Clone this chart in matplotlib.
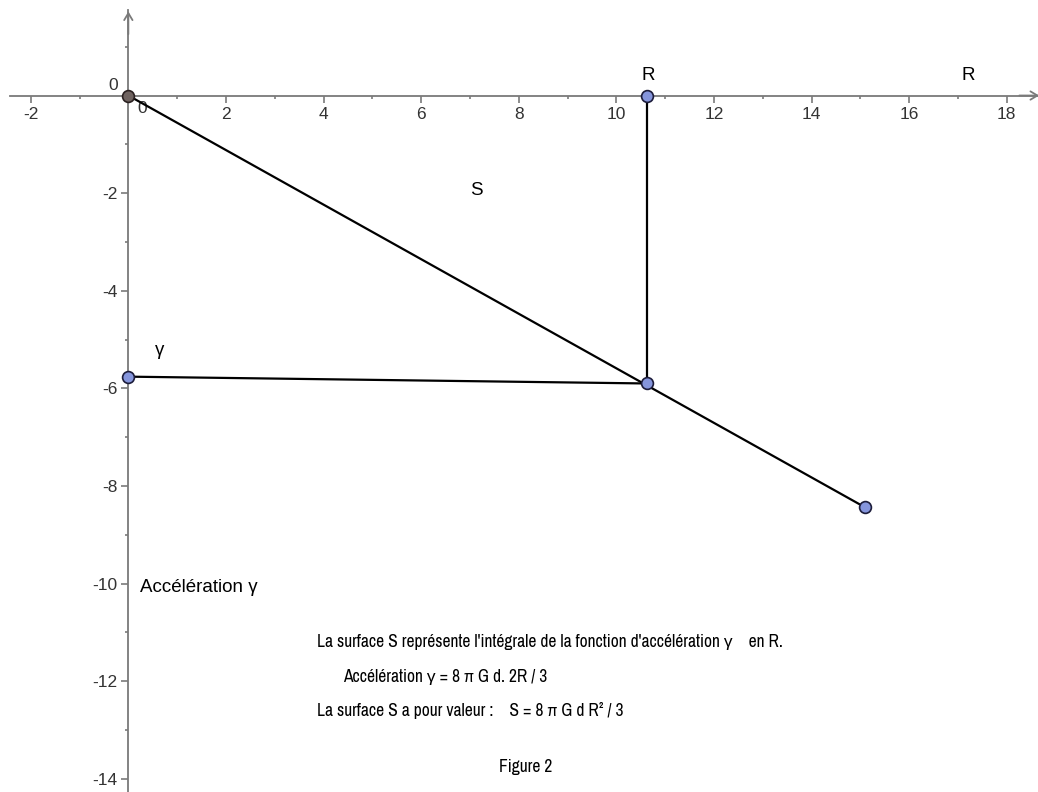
import matplotlib
matplotlib.use("Agg")
import matplotlib.pyplot as plt
import logging
logging.getLogger('matplotlib.font_manager').setLevel(logging.ERROR)

plt.rcParams['font.family'] = ['Liberation Sans', 'DejaVu Sans']
block_family = ['Archivo Narrow', 'Liberation Sans', 'DejaVu Sans']

# Data
origin = (0.0, 0.0)
point_R = (10.63, 0.0)
point_inter = (10.63, -5.90)
point_end = (15.10, -8.44)
point_gamma = (0.0, -5.76)

x_major = [-2, 2, 4, 6, 8, 10, 12, 14, 16, 18]
x_minor = [-1, 1, 3, 5, 7, 9, 11, 13, 15, 17]
y_major = [-2, -4, -6, -8, -10, -12, -14]
y_minor = [1, -1, -3, -5, -7, -9, -11, -13]

labels = [
    (10.65, 0.42, "R"),
    (17.21, 0.42, "R"),
    (7.13, -1.94, "S"),
    (0.65, -5.22, "γ"),
]
left_label = (0.24, -10.09, "Accélération γ")
block = [
    (3.87, -11.19, "La surface S représente l'intégrale de la fonction d'accélération γ    en R."),
    (4.40, -11.92, "Accélération γ = 8 π G d. 2R / 3"),
    (3.87, -12.61, "La surface S a pour valeur :    S = 8 π G d R² / 3"),
    (7.60, -13.76, "Figure 2"),
]
block_first_line_width_px = 463  # width of the first block line in the reference

fig = plt.figure(figsize=(10.38, 7.92), dpi=100)
ax = fig.add_axes([0, 0, 1, 1])
ax.set_xlim(-2.63, 18.64)
ax.set_ylim(-14.27, 1.957)

axis_col = '#7a7a7a'
for s in ['top', 'right']:
    ax.spines[s].set_visible(False)
ax.spines['bottom'].set_position(('data', 0))
ax.spines['left'].set_position(('data', 0))
ax.spines['bottom'].set_bounds(-2.42, 18.64)
ax.spines['left'].set_bounds(-14.27, 1.75)
for s in ['bottom', 'left']:
    ax.spines[s].set_color(axis_col)
    ax.spines[s].set_linewidth(1.3)

ax.set_xticks(x_major)
ax.set_xticklabels([str(v) for v in x_major])
ax.set_xticks(x_minor, minor=True)
ax.set_yticks(y_major)
ax.set_yticklabels([str(v) for v in y_major])
ax.set_yticks(y_minor, minor=True)
ax.tick_params(axis='both', which='major', direction='out', length=5, width=1.2,
               color=axis_col, labelsize=12.5, labelcolor='#333333', pad=3)
ax.tick_params(axis='both', which='minor', direction='out', length=2.5, width=1.2,
               color=axis_col)

ax.text(0.28, -0.12, "0", ha='center', va='top', fontsize=12.5, color='#333333')
ax.text(-0.32, 0.06, "0", ha='center', va='bottom', fontsize=12.5, color='#333333')

# axis arrows
ax.annotate('', xy=(0, 1.78), xytext=(0, 1.2),
            arrowprops=dict(arrowstyle='->,head_length=0.5,head_width=0.3', color=axis_col, lw=1.3))
ax.annotate('', xy=(18.72, 0), xytext=(18.2, 0),
            arrowprops=dict(arrowstyle='->,head_length=0.5,head_width=0.3', color=axis_col, lw=1.3),
            annotation_clip=False)

# segments
ax.plot([origin[0], point_end[0]], [origin[1], point_end[1]], color='black', lw=1.6, zorder=3)
ax.plot([point_R[0], point_inter[0]], [point_R[1], point_inter[1]], color='black', lw=1.6, zorder=3)
ax.plot([point_gamma[0], point_inter[0]], [point_gamma[1], point_inter[1]], color='black', lw=1.6, zorder=3)

blue = '#8595dc'
edge = '#1c1c3a'
for p in [point_R, point_inter, point_end, point_gamma]:
    ax.plot(p[0], p[1], 'o', ms=8.5, mfc=blue, mec=edge, mew=1.2, zorder=5)
ax.plot(origin[0], origin[1], 'o', ms=8.5, mfc='#6f6360', mec='#2a2020', mew=1.2, zorder=5)

for x, y, s in labels:
    ax.text(x, y, s, ha='center', va='center', fontsize=13.5, color='black')
ax.text(left_label[0], left_label[1], left_label[2], ha='left', va='center', fontsize=13.5, color='black')

block_texts = []
for x, y, s in block:
    t = ax.text(x, y, s, ha='left', va='center', fontsize=14, color='black', family=block_family)
    block_texts.append(t)

# fit block font size to the reference line width
fig.canvas.draw()
renderer = fig.canvas.get_renderer()
w = block_texts[0].get_window_extent(renderer).width
size = 14 * block_first_line_width_px / w
for t in block_texts:
    t.set_fontsize(size)

fig.savefig('out.png', dpi=100)
